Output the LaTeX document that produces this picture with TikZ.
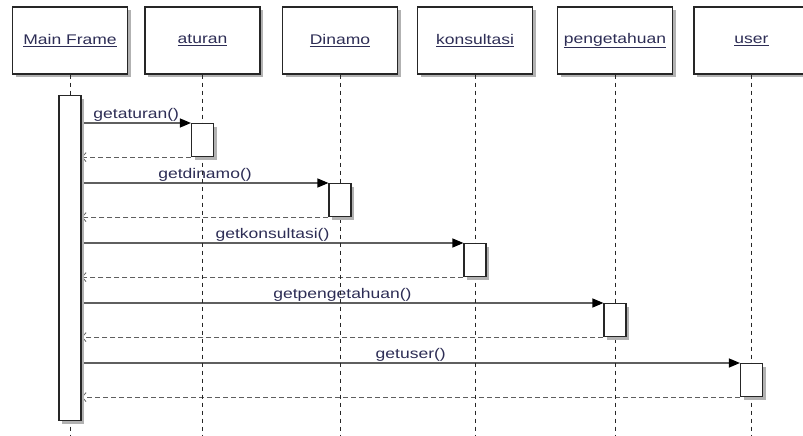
\documentclass[tikz,border=0pt]{standalone}
\usepackage{fontspec}
\setmainfont{Liberation Sans}[FakeStretch=1.25]
\usepackage{xcolor}
\usetikzlibrary{arrows.meta,positioning,calc,shadows}

\definecolor{linkblue}{RGB}{45,45,85}
\definecolor{msggray}{RGB}{95,95,95}

\pgfdeclarelayer{lines}
\pgfdeclarelayer{top}
\pgfsetlayers{main,lines,top}

\tikzset{
  shade box/.style={drop shadow={shadow xshift=3pt, shadow yshift=-3pt, fill=black!30, opacity=1}},
  head/.style={draw=black!85, line width=1.1pt, fill=white, shade box,
    minimum width=115pt, minimum height=67pt, inner sep=0pt, text=linkblue},
  act/.style={draw=black!85, line width=1.1pt, fill=white, shade box,
    minimum width=22pt, minimum height=33pt, inner sep=0pt, anchor=north},
  life/.style={black!85, line width=1pt, dash pattern=on 4pt off 4pt},
  call/.style={msggray, line width=1.1pt, -{Triangle[length=11pt,width=9pt,black]}},
  reply/.style={msggray, line width=1pt, dash pattern=on 5pt off 3pt,
    -{Straight Barb[length=4pt,width=9pt,line width=0.8pt]}},
  msg/.style={text=linkblue, inner sep=1pt, midway, above}
}

\begin{document}
\begin{tikzpicture}[x=1pt, y=-1pt, every node/.style={font=\fontsize{14}{16}\selectfont}]
    \useasboundingbox (0,0) rectangle (803,436);
    \coordinate (bottom) at (0,436);

    % participants
    \foreach \nm/\x/\txt in {mf/70/Main Frame, at/202.5/aturan, di/340/Dinamo,
                             ko/475/konsultasi, pe/615/pengetahuan, us/751.5/user}
        \node[head] (\nm) at (\x,40.5) {\underline{\txt}};

    % lifelines
    \begin{pgfonlayer}{lines}
    \foreach \nm in {mf,at,di,ko,pe,us}
        \draw[life] (\nm.south) -- (\nm.south |- bottom);
    \end{pgfonlayer}

    % activations
    \begin{pgfonlayer}{top}
    \node[act, minimum height=325pt] (mfa) at (mf.south |- 0,95) {};
    \foreach \nm/\y/\i in {at/123/1, di/183/2, ko/243/3, pe/303/4, us/363/5}
        \node[act] (a\i) at (\nm.south |- 0,\y) {};
    \end{pgfonlayer}

    % messages
    \foreach \i/\txt in {1/getaturan(), 2/getdinamo(), 3/getkonsultasi(),
                         4/getpengetahuan(), 5/getuser()} {
        \draw[call] (mfa.east |- a\i.north west) -- node[msg] {\txt} (a\i.north west);
        \draw[reply] (a\i.south west) -- (mfa.east |- a\i.south west);
    }
\end{tikzpicture}
\end{document}
